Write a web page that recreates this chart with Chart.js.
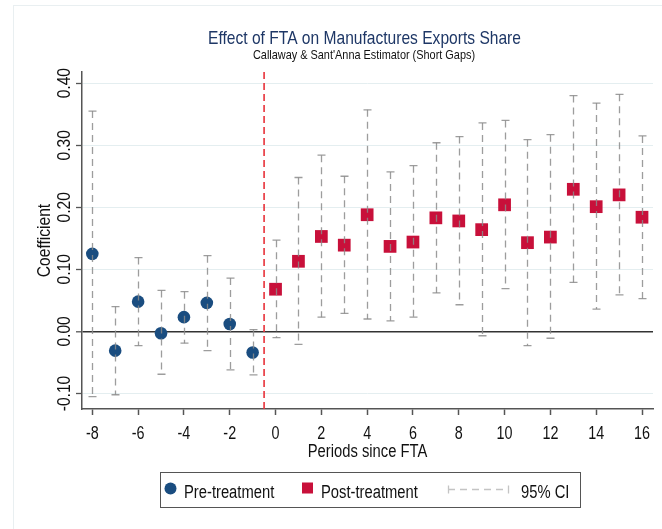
<!DOCTYPE html>
<html>
<head>
<meta charset="utf-8">
<title>Effect of FTA on Manufactures Exports Share</title>
<script src="https://cdn.jsdelivr.net/npm/chart.js@4.4.1/dist/chart.umd.min.js"></script>
<style>
  html, body { margin: 0; padding: 0; background: #ffffff; }
  #wrap { width: 662px; height: 529px; }
</style>
</head>
<body>
<div id="wrap"><canvas id="eventChart" width="662" height="529"></canvas></div>
<script>
// ==========================
// Event study: FTA effect
// ==========================

const FONT = "'Liberation Sans', Arial, sans-serif";
// narrow Helvetica look: squeeze glyphs horizontally
const SQUEEZE = 0.82;

// periods relative to FTA entry
const prePeriods = [-8, -7, -6, -5, -4, -3, -2, -1];
const postPeriods = [0, 1, 2, 3, 4, 5, 6, 7, 8, 9, 10, 11, 12, 13, 14, 15, 16];

// point estimates
const preCoef = [0.125, -0.031, 0.048, -0.003, 0.023, 0.046, 0.012, -0.034];
const postCoef = [0.068, 0.113, 0.153, 0.139, 0.188, 0.137, 0.144, 0.183, 0.178, 0.164, 0.204, 0.143, 0.152, 0.229, 0.201, 0.220, 0.184];

// 95% confidence bounds
const preLow = [-0.105, -0.102, -0.023, -0.069, -0.019, -0.031, -0.062, -0.070];
const preHigh = [0.355, 0.040, 0.119, 0.066, 0.064, 0.122, 0.086, 0.003];
const postLow = [-0.010, -0.021, 0.023, 0.029, 0.020, 0.017, 0.023, 0.062, 0.043, -0.007, 0.069, -0.023, -0.011, 0.079, 0.036, 0.059, 0.053];
const postHigh = [0.147, 0.248, 0.284, 0.250, 0.357, 0.257, 0.267, 0.304, 0.314, 0.336, 0.340, 0.309, 0.317, 0.380, 0.368, 0.382, 0.315];

// axis ticks
const xTicks = [-8, -6, -4, -2, 0, 2, 4, 6, 8, 10, 12, 14, 16];
const yTicks = [-0.10, 0.00, 0.10, 0.20, 0.30, 0.40];

const treatmentLine = -0.5;

const BLUE = "#1a4d80";
const RED = "#c8103a";
const INK = "#111111";

const toPoints = (xs, ys) => xs.map((x, i) => ({ x: x, y: ys[i] }));

// text helper (alphabetic baseline, optional rotation)
function drawText(ctx, text, x, y, size, color, align, angle) {
    ctx.save();
    ctx.translate(x, y);
    if (angle) ctx.rotate(angle);
    ctx.scale(SQUEEZE, 1);
    ctx.font = size + "px " + FONT;
    ctx.fillStyle = color;
    ctx.textAlign = align;
    ctx.textBaseline = "alphabetic";
    ctx.fillText(text, 0, 0);
    ctx.restore();
}

// Outer graph region frame
const frame = {
    id: "frame",
    beforeDraw(chart) {
        const ctx = chart.ctx;
        ctx.save();
        ctx.strokeStyle = "#e9eff1";
        ctx.lineWidth = 1;
        ctx.strokeRect(13.5, 5.5, chart.width, chart.height);
        ctx.restore();
    }
};

// Titles, axis titles and tick labels
const labels = {
    id: "labels",
    afterDraw(chart) {
        const ctx = chart.ctx;
        const x = chart.scales.x;
        const y = chart.scales.y;

        drawText(ctx, "Effect of FTA on Manufactures Exports Share", 364.5, 44, 19, "#1e3766", "center");
        drawText(ctx, "Callaway & Sant'Anna Estimator (Short Gaps)", 364, 58.5, 13.3, INK, "center");

        yTicks.forEach(v => {
            drawText(ctx, v.toFixed(2), 70, y.getPixelForValue(v), 19, INK, "center", -Math.PI / 2);
        });
        drawText(ctx, "Coefficient", 50, (y.top + y.bottom) / 2, 19, INK, "center", -Math.PI / 2);

        xTicks.forEach(v => {
            drawText(ctx, String(v), x.getPixelForValue(v), 439, 17.5, INK, "center");
        });
        drawText(ctx, "Periods since FTA", (x.left + x.right) / 2, 457, 18, INK, "center");
    }
};

// Treatment start line + CI whiskers
const ciBars = {
    id: "ciBars",
    afterDatasetsDraw(chart) {
        const ctx = chart.ctx;
        const x = chart.scales.x;
        const y = chart.scales.y;
        const area = chart.chartArea;

        ctx.save();

        // red dashed line at treatment
        const tx = x.getPixelForValue(treatmentLine);
        ctx.strokeStyle = "#e8323a";
        ctx.lineWidth = 1.6;
        ctx.setLineDash([7, 4]);
        ctx.beginPath();
        ctx.moveTo(tx, area.top);
        ctx.lineTo(tx, area.bottom);
        ctx.stroke();

        const periods = prePeriods.concat(postPeriods);
        const lows = preLow.concat(postLow);
        const highs = preHigh.concat(postHigh);

        ctx.strokeStyle = "rgba(140,140,140,0.85)";
        ctx.lineWidth = 1.3;

        periods.forEach((p, i) => {
            const px = Math.round(x.getPixelForValue(p)) + 0.5;
            const top = y.getPixelForValue(highs[i]);
            const bot = y.getPixelForValue(lows[i]);

            ctx.setLineDash([7, 5]);
            ctx.beginPath();
            ctx.moveTo(px, top);
            ctx.lineTo(px, bot);
            ctx.stroke();

            ctx.setLineDash([]);
            ctx.beginPath();
            ctx.moveTo(px - 4, top);
            ctx.lineTo(px + 4, top);
            ctx.moveTo(px - 4, bot);
            ctx.lineTo(px + 4, bot);
            ctx.stroke();
        });

        ctx.restore();
    }
};

// Boxed legend below the axis title
const legendBox = {
    id: "legendBox",
    afterDraw(chart) {
        const ctx = chart.ctx;
        const cy = 489.5;
        ctx.save();

        ctx.strokeStyle = "#555555";
        ctx.lineWidth = 1;
        ctx.strokeRect(160.5, 472.5, 420, 35);

        ctx.fillStyle = BLUE;
        ctx.beginPath();
        ctx.arc(170.5, cy - 1, 6, 0, Math.PI * 2);
        ctx.fill();

        ctx.fillStyle = RED;
        ctx.fillRect(302, cy - 7, 11, 11);

        ctx.strokeStyle = "#c4c4c4";
        ctx.lineWidth = 1.3;
        ctx.setLineDash([7, 5]);
        ctx.beginPath();
        ctx.moveTo(448, cy);
        ctx.lineTo(508, cy);
        ctx.stroke();
        ctx.setLineDash([]);
        ctx.beginPath();
        ctx.moveTo(448.5, cy - 4);
        ctx.lineTo(448.5, cy + 4);
        ctx.moveTo(508.5, cy - 4);
        ctx.lineTo(508.5, cy + 4);
        ctx.stroke();
        ctx.restore();

        drawText(ctx, "Pre-treatment", 184, 497.5, 18, INK, "left");
        drawText(ctx, "Post-treatment", 321, 497.5, 18, INK, "left");
        drawText(ctx, "95% CI", 521, 497.5, 18, INK, "left");
    }
};

const ctx = document.getElementById("eventChart").getContext("2d");

new Chart(ctx, {
    type: "scatter",
    data: {
        datasets: [
            {
                label: "Pre-treatment",
                data: toPoints(prePeriods, preCoef),
                pointStyle: "circle",
                pointRadius: 6.3,
                pointHoverRadius: 6.3,
                backgroundColor: BLUE,
                borderColor: BLUE,
                borderWidth: 0
            },
            {
                label: "Post-treatment",
                data: toPoints(postPeriods, postCoef),
                pointStyle: "rect",
                pointRadius: 9,
                pointHoverRadius: 9,
                backgroundColor: RED,
                borderColor: RED,
                borderWidth: 0
            }
        ]
    },
    options: {
        responsive: false,
        animation: false,
        events: [],
        layout: {
            padding: { top: 72, right: 5, left: 0, bottom: 0 }
        },
        plugins: {
            legend: { display: false },
            tooltip: { enabled: false },
            title: { display: false }
        },
        scales: {
            x: {
                type: "linear",
                min: -8.45,
                max: 16.48,
                afterBuildTicks: scale => {
                    scale.ticks = xTicks.map(v => ({ value: v }));
                },
                afterFit: scale => {
                    scale.height = 120;
                },
                grid: {
                    drawOnChartArea: false,
                    drawTicks: true,
                    tickLength: 6,
                    tickColor: "#555555",
                    tickWidth: 1.5
                },
                border: {
                    color: "#555555",
                    width: 1.5
                },
                ticks: { display: false }
            },
            y: {
                type: "linear",
                min: -0.125,
                max: 0.418,
                afterBuildTicks: scale => {
                    scale.ticks = yTicks.map(v => ({ value: v }));
                },
                afterFit: scale => {
                    scale.width = 82;
                },
                grid: {
                    color: c => (c.tick && c.tick.value === 0 ? "#333333" : "#e4eef0"),
                    lineWidth: c => (c.tick && c.tick.value === 0 ? 1.6 : 1),
                    drawTicks: true,
                    tickLength: 6,
                    tickColor: "#555555",
                    tickWidth: 1.3
                },
                border: {
                    color: "#555555",
                    width: 1.5
                },
                ticks: { display: false }
            }
        }
    },
    plugins: [frame, ciBars, labels, legendBox]
});
</script>
</body>
</html>
